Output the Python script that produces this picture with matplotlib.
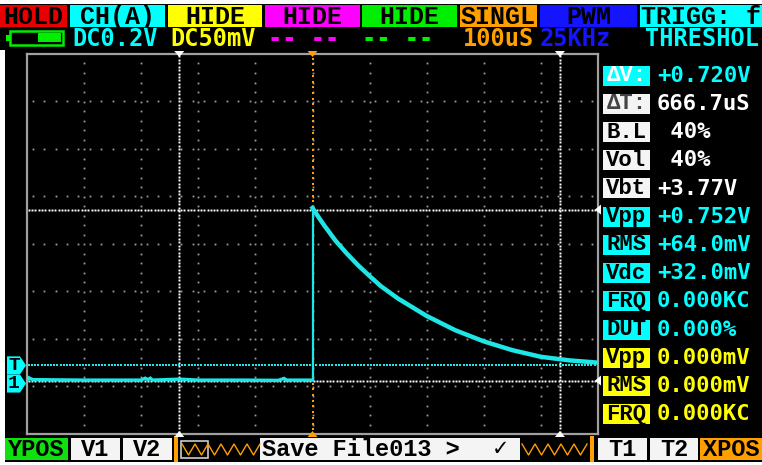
import numpy as np
import matplotlib
matplotlib.use('Agg')
import matplotlib.pyplot as plt
from matplotlib.patches import Rectangle, Polygon
from matplotlib.lines import Line2D

# ---------------- data (time in us relative to trigger, voltage in V) -------------
base_t = [-500, -497, -490, -400, -300, -293, -288, -284, -280, -233, -200, -120, -60, -50, -45, -40, -10, 0]
base_v = [0.000, 0.012, 0.004, 0.002, 0.002, 0.010, 0.004, 0.010, 0.002, 0.006, 0.002, 0.002, 0.001, 0.009, 0.002, 0.002, 0.002, 0.002]
decay_t = [0, 10, 20, 40, 60, 80, 100, 120, 150, 200, 250, 300, 350, 400, 450, 502]
decay_v = [0.727, 0.690, 0.655, 0.590, 0.535, 0.485, 0.440, 0.397, 0.345, 0.272, 0.212, 0.165, 0.128, 0.100, 0.085, 0.075]

t_cursors = [-233.3, 433.3]
v_cursors = [0.720, 0.000]
trig_level = 0.064
trig_time = 0.0

top_labels = ['HOLD', 'CH(A)', 'HIDE', 'HIDE', 'HIDE', 'SINGL', 'PWM', 'TRIGG: f']
second_row = ['DC0.2V', 'DC50mV', '-- --', '-- --', '100uS', '25KHz', 'THRESHOL']
panel_labels = ['ΔV:', 'ΔT:', 'B.L', 'Vol', 'Vbt', 'Vpp', 'RMS', 'Vdc', 'FRQ', 'DUT', 'Vpp', 'RMS', 'FRQ']
panel_values = ['+0.720V', '666.7uS', ' 40%', ' 40%', '+3.77V', '+0.752V', '+64.0mV',
                '+32.0mV', '0.000KC', '0.000%', '0.000mV', '0.000mV', '0.000KC']
bottom_labels = ['YPOS', 'V1', 'V2', 'Save File013 >', 'T1', 'T2', 'XPOS']

# ---------------- figure --------------------------------------------------------
W, H = 762, 465
fig = plt.figure(figsize=(W / 100, H / 100), dpi=100, facecolor='white')

def fx(x):
    return x / W

def fy(y):
    return 1 - y / H

def rect(x0, y0, x1, y1, fc, ec='none', lw=0, z=1):
    fig.add_artist(Rectangle((fx(x0), fy(y1)), (x1 - x0) / W, (y1 - y0) / H,
                             transform=fig.transFigure, facecolor=fc,
                             edgecolor=ec, linewidth=lw, zorder=z))

def tri(pts, color, z=5):
    fig.add_artist(Polygon([(fx(a), fy(b)) for a, b in pts], closed=True,
                           transform=fig.transFigure, facecolor=color,
                           edgecolor='none', zorder=z))

LAB = ['Liberation Mono', 'DejaVu Sans Mono', 'DejaVu Sans']
VAL = ['DejaVu Sans Mono', 'DejaVu Sans']

def txt(x, y, s, color, size=17, family=None, ha='left', z=6):
    fig.text(fx(x), fy(y), s, color=color, fontsize=size, family=family or VAL,
             weight='bold', ha=ha, va='center', zorder=z)

# screen background
rect(0, 4, W, 462, 'black', z=0)
rect(0, 50, 5, 462, 'white', z=0.5)

CYAN = '#00ffff'
TRACE = '#1fe6e6'
YEL = '#ffff00'
MAG = '#ff00ff'
GRN = '#00ee00'
ORA = '#ffa000'
BLU = '#1414ff'
RED = '#e80000'
WHT = '#f4f4f4'

# ---------------- top row boxes --------------------------------------------------
top_boxes = [(0, 67, RED), (70, 165, CYAN), (168, 262, YEL), (265, 360, MAG),
             (362, 457, GRN), (460, 537, ORA), (540, 637, BLU), (640, 762, CYAN)]
for (x0, x1, c), s in zip(top_boxes, top_labels):
    rect(x0, 5, x1, 27, c, z=1)
    txt((x0 + x1) / 2, 17, s, 'black', size=18, family=LAB, ha='center')

# second row
row2_x = [72, 170, 268, 362, 463, 540, 645]
row2_c = [CYAN, YEL, MAG, GRN, ORA, BLU, CYAN]
for x, s, c in zip(row2_x, second_row, row2_c):
    txt(x, 39, s, c, size=17)

# battery icon
rect(10, 31, 63, 45, 'none', ec='#00ee00', lw=1.8, z=2)
rect(6, 35, 10, 41, '#00ee00', z=2)
rect(38, 33.5, 61, 42.5, '#00ee00', z=2)

# ---------------- main plot --------------------------------------------------------
L, T, R, B = 27, 54, 598, 434
ax = fig.add_axes([fx(L), fy(B), (R - L) / W, (B - T) / H])
ax.set_facecolor('black')
ax.set_xlim(-500, 500)
ax.set_ylim(-0.225, 1.375)
ax.set_xticks([])
ax.set_yticks([])
for sp in ax.spines.values():
    sp.set_color('#a0a0a0')
    sp.set_linewidth(1.6)

GRID = '#9c9c9c'
hy = np.arange(1.175, -0.2, -0.2)
vx = np.arange(-400, 401, 100)
for yv in hy:
    xs = np.arange(-500 + 10, 500, 20)
    ax.plot(xs, np.full_like(xs, yv, dtype=float), 's', color=GRID, ms=1.3, mew=0, zorder=1)
for xv in vx:
    ys = np.arange(1.375 - 0.04, -0.225, -0.04)
    ax.plot(np.full_like(ys, xv, dtype=float), ys, 's', color=GRID, ms=1.3, mew=0, zorder=1)

# time cursors (white dotted vertical)
for tc in t_cursors:
    ys = np.arange(1.375 - 0.01, -0.225, -0.0145)
    ax.plot(np.full_like(ys, tc), ys, 's', color='white', ms=1.4, mew=0, zorder=2)
# voltage cursors (white dotted horizontal)
for vc in v_cursors:
    xs = np.arange(-500 + 3, 500, 5.8)
    ax.plot(xs, np.full_like(xs, vc), 's', color='white', ms=1.4, mew=0, zorder=2)
# trigger time (orange) and trigger level (cyan)
ys = np.arange(1.375 - 0.02, -0.225, -0.024)
ax.plot(np.full_like(ys, trig_time), ys, 's', color=ORA, ms=1.6, mew=0, zorder=2)
xs = np.arange(-500 + 3, 500, 5.6)
ax.plot(xs, np.full_like(xs, trig_level), 's', color=TRACE, ms=1.5, mew=0, zorder=2)

# signal trace
ax.plot(base_t, base_v, color=TRACE, lw=2.4, zorder=4, solid_joinstyle='miter')
ax.plot([base_t[-1], decay_t[0]], [base_v[-1], decay_v[0]], color=TRACE, lw=1.6, zorder=4)
ax.plot(decay_t, decay_v, color=TRACE, lw=3.2, zorder=4)

# ---------------- cursor markers on frame -----------------------------------------
def px_of_t(t):
    return L + (t + 500) / 1000 * (R - L)

def py_of_v(v):
    return B - (v + 0.225) / 1.6 * (B - T)

for tc, c in [(t_cursors[0], 'white'), (trig_time, ORA), (t_cursors[1], 'white')]:
    x = px_of_t(tc)
    tri([(x - 5, 51), (x + 5, 51), (x, 57)], c, z=7)
    tri([(x - 5, 437), (x + 5, 437), (x, 431)], c, z=7)
for vc in [v_cursors[0], v_cursors[1]]:
    y = py_of_v(vc)
    tri([(601, y - 5), (601, y + 5), (595, y)], 'white', z=7)

# left markers T and 1
for y, s in [(py_of_v(trig_level), 'T'), (py_of_v(0.0) + 3, '1')]:
    tri([(7, y - 9), (20, y - 9), (26, y), (20, y + 9), (7, y + 9)], CYAN, z=7)
    txt(8, y, s, 'black', size=14, family=LAB, z=8)

# ---------------- right panel ------------------------------------------------------
lab_bg = [CYAN, WHT, WHT, WHT, WHT, CYAN, CYAN, CYAN, CYAN, CYAN, YEL, YEL, YEL]
lab_fg = ['white', '#444444', 'black', 'black', 'black', 'black', 'black', 'black',
          'black', 'black', 'black', 'black', 'black']
val_c = [CYAN, 'white', 'white', 'white', 'white', CYAN, CYAN, CYAN, CYAN, CYAN, YEL, YEL, YEL]
for i, (lab, val) in enumerate(zip(panel_labels, panel_values)):
    yc = 75.7 + 28.2 * i
    rect(603, yc - 10, 650, yc + 10, lab_bg[i], z=2)
    txt(626.5, yc, lab, lab_fg[i], size=16, family=LAB, ha='center')
    txt(657, yc, val, val_c[i], size=16)

# ---------------- bottom bar ------------------------------------------------------
by0, by1 = 438, 460
byc = 449
rect(5, by0, 68, by1, '#10e010', z=2)
txt(36.5, byc, bottom_labels[0], 'black', size=17, family=LAB, ha='center')
rect(71, by0, 120, by1, WHT, z=2)
txt(95.5, byc, bottom_labels[1], 'black', size=17, family=LAB, ha='center')
rect(123, by0, 172, by1, WHT, z=2)
txt(147.5, byc, bottom_labels[2], 'black', size=17, family=LAB, ha='center')
rect(174, 436, 177.5, 462, ORA, z=2)
rect(181, 441, 208, 458, 'none', ec='#cccccc', lw=1.2, z=3)

def zigzag(x0, x1, period=13.0):
    xs = np.arange(x0, x1 + 0.1, period / 2)
    ys = np.where(np.arange(len(xs)) % 2 == 0, 444, 455)
    fig.add_artist(Line2D([fx(a) for a in xs], [fy(b) for b in ys], color=ORA,
                          lw=1.0, transform=fig.transFigure, zorder=4))

zigzag(182, 260)
rect(260, by0, 520, by1, WHT, z=2)
txt(262, byc, bottom_labels[3], 'black', size=17, family=LAB)
txt(492, byc, '✓', 'black', size=15, family=['DejaVu Sans'])
zigzag(522, 590)
rect(590, 436, 593.5, 462, ORA, z=2)
rect(598, by0, 647, by1, WHT, z=2)
txt(622.5, byc, bottom_labels[4], 'black', size=17, family=LAB, ha='center')
rect(650, by0, 698, by1, WHT, z=2)
txt(674, byc, bottom_labels[5], 'black', size=17, family=LAB, ha='center')
rect(700, by0, 762, by1, ORA, z=2)
txt(731, byc, bottom_labels[6], 'black', size=17, family=LAB, ha='center')

fig.savefig('out.png', dpi=100, facecolor='white')
